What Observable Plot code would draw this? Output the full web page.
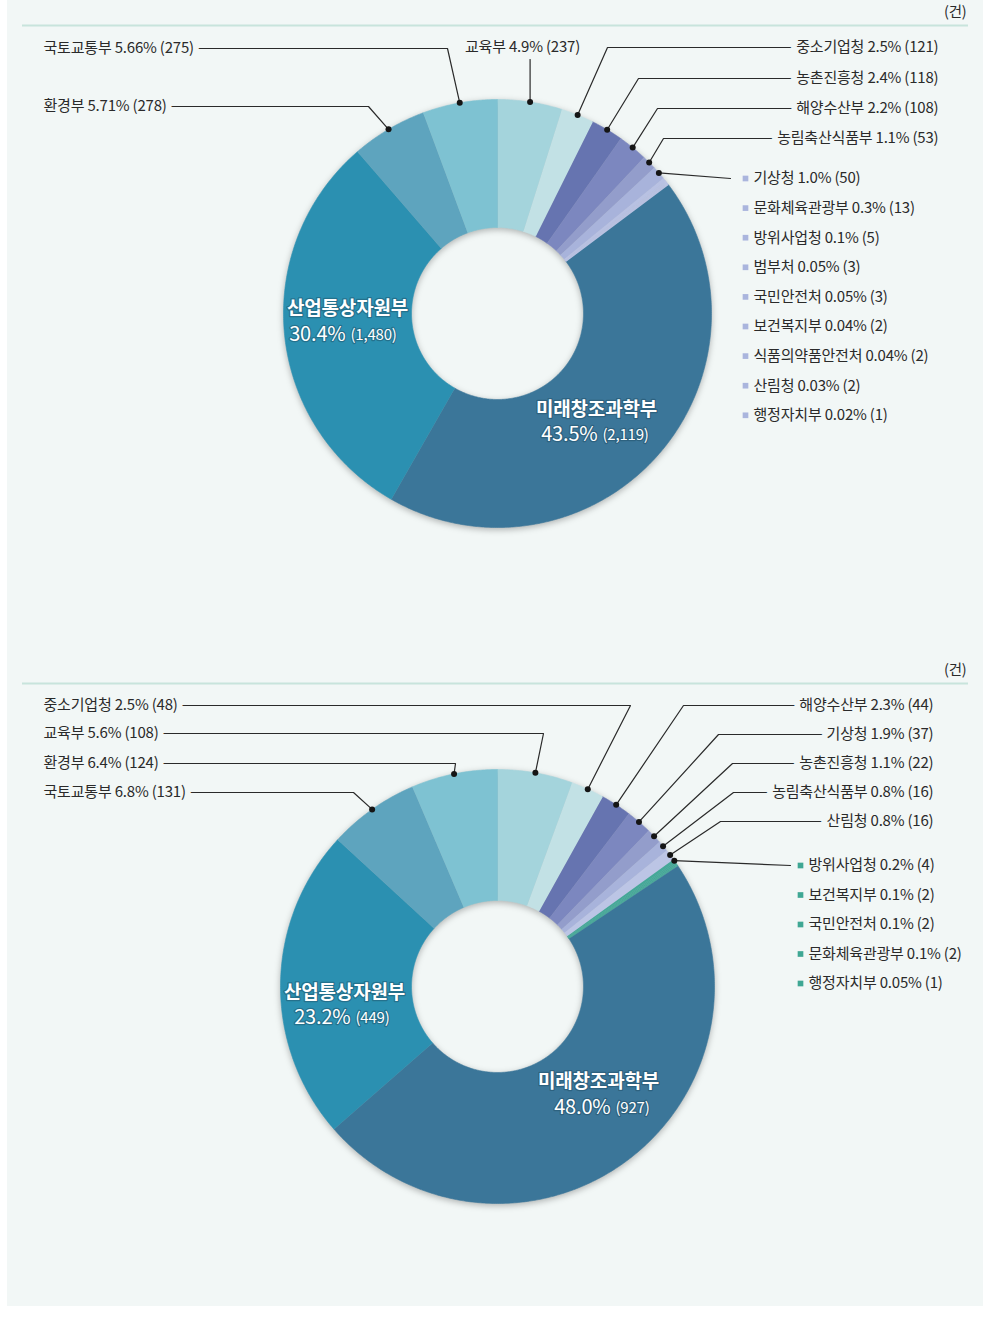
<!DOCTYPE html>
<html><head><meta charset="utf-8">
<script src="https://cdn.jsdelivr.net/npm/d3@7"></script>
<script src="https://cdn.jsdelivr.net/npm/@observablehq/plot@0.6"></script>
<style>
body{margin:0;background:#fff;}
#wrap{position:relative;width:1003px;height:1324px;overflow:hidden;}
#panel{position:absolute;left:7px;top:0;width:976px;height:1306px;background:#f2f7f6;}
#c1,#c2{position:absolute;left:0;}
#c1{top:0}
#c2{top:650px}
</style>
</head><body>
<div id="wrap"><div id="panel"></div><div id="c1"></div><div id="c2"></div></div>
<script>
// ---------- DATA (top donut) ----------
const names1 = ["교육부","중소기업청","농촌진흥청","해양수산부","농림축산식품부","기상청","문화체육관광부","방위사업청","범부처","국민안전처","보건복지부","식품의약품안전처","산림청","행정자치부","미래창조과학부","산업통상자원부","환경부","국토교통부"];
const counts1 = [237,121,118,108,53,50,13,5,3,3,2,2,2,1,2119,1480,278,275];
const pcts1 = ["4.9%","2.5%","2.4%","2.2%","1.1%","1.0%","0.3%","0.1%","0.05%","0.05%","0.04%","0.04%","0.03%","0.02%","43.5%","30.4%","5.71%","5.66%"];

// ---------- DATA (bottom donut) ----------
const names2 = ["교육부","중소기업청","해양수산부","기상청","농촌진흥청","농림축산식품부","산림청","방위사업청","보건복지부","국민안전처","문화체육관광부","행정자치부","미래창조과학부","산업통상자원부","국토교통부","환경부"];
const counts2 = [108,48,44,37,22,16,16,4,2,2,2,1,927,449,131,124];
const pcts2 = ["5.6%","2.5%","2.3%","1.9%","1.1%","0.8%","0.8%","0.2%","0.1%","0.1%","0.1%","0.05%","48.0%","23.2%","6.8%","6.4%"];

const unitLabel = "(건)";

// ---------- STYLE / LAYOUT ----------
const FONT = "'Noto Sans CJK KR', 'Noto Sans', sans-serif";
const BG = "#f2f7f6";
const TXT = "#2a2a2a";
const fmt = d3.format(",");

const palette1 = ["#a4d4dc","#c2e1e5","#6674b0","#7c87bf","#939dcb","#a8b3db","#b8c1e3","#b8c1e3","#b8c1e3","#b8c1e3","#b8c1e3","#b8c1e3","#b8c1e3","#b8c1e3","#3b7699","#2b90b1","#5ea4be","#7ec2d2"];
const palette2 = ["#a4d4dc","#c2e1e5","#6674b0","#7c87bf","#939dcb","#a8b3db","#bcc5e5","#44a898","#44a898","#44a898","#44a898","#44a898","#3b7699","#2b90b1","#5ea4be","#7ec2d2"];

const layout1 = {
  el:"#c1", H:650, cx:497, cy:313, R:214, r:86, dividerY:25, unitY:12,
  leaders:[
    {name:"국토교통부", side:"left", tx:43, ty:48, ex:447},
    {name:"환경부", side:"left", tx:43, ty:106, ex:368},
    {name:"교육부", side:"top", tx:522, ty:47, top:59},
    {name:"중소기업청", side:"right", tx:938, ty:47, ex:607},
    {name:"농촌진흥청", side:"right", tx:938, ty:78, ex:638},
    {name:"해양수산부", side:"right", tx:938, ty:108, ex:657},
    {name:"농림축산식품부", side:"right", tx:938, ty:138, ex:663}
  ],
  legend:{names:["기상청","문화체육관광부","방위사업청","범부처","국민안전처","보건복지부","식품의약품안전처","산림청","행정자치부"], sx:745, tx:753, y0:178, step:29.6, leadEnd:730, color:"#aab5dd"},
  center:[
    {name:"산업통상자원부", x:347, ny:308, pe:345, py:334},
    {name:"미래창조과학부", x:596, ny:409, pe:597, py:434}
  ]
};
const layout2 = {
  el:"#c2", H:674, cx:497, cy:336, R:217, r:86, dividerY:33, unitY:20,
  leaders:[
    {name:"중소기업청", side:"left", tx:43, ty:55, ex:630},
    {name:"교육부", side:"left", tx:43, ty:83, ex:543},
    {name:"환경부", side:"left", tx:43, ty:113, ex:455},
    {name:"국토교통부", side:"left", tx:43, ty:142, ex:353},
    {name:"해양수산부", side:"right", tx:933, ty:55, ex:683},
    {name:"기상청", side:"right", tx:933, ty:84, ex:718},
    {name:"농촌진흥청", side:"right", tx:933, ty:113, ex:732},
    {name:"농림축산식품부", side:"right", tx:933, ty:142, ex:733},
    {name:"산림청", side:"right", tx:933, ty:171, ex:720}
  ],
  legend:{names:["방위사업청","보건복지부","국민안전처","문화체육관광부","행정자치부"], sx:800, tx:808, y0:215, step:29.5, leadEnd:790, color:"#3fa794"},
  center:[
    {name:"산업통상자원부", x:344, ny:342, pe:350, py:367},
    {name:"미래창조과학부", x:598, ny:431, pe:610, py:457}
  ]
};

function donut(names, counts, pcts, palette, L) {
  const {H, cx, cy, R, r} = L;
  const X = px => (px - cx) / R, Y = py => (cy - py) / R;
  const total = d3.sum(counts);
  const cum = d3.cumsum(counts);
  const info = new Map();
  const poly = [];
  names.forEach((n, i) => {
    const a0 = (cum[i] - counts[i]) / total * 2 * Math.PI;
    const a1 = cum[i] / total * 2 * Math.PI;
    info.set(n, {a0, a1, mid:(a0 + a1) / 2, count:counts[i], pct:pcts[i]});
    const steps = Math.max(2, Math.ceil((a1 - a0) / (Math.PI / 360)));
    for (let k = 0; k <= steps; k++) { const a = a0 + (a1 - a0) * k / steps; poly.push({name:n, x:Math.sin(a), y:Math.cos(a)}); }
    for (let k = steps; k >= 0; k--) { const a = a0 + (a1 - a0) * k / steps; poly.push({name:n, x:r / R * Math.sin(a), y:r / R * Math.cos(a)}); }
  });
  const lines = [], dots = [], tLeft = [], tRight = [], tMid = [];
  const label = n => { const s = info.get(n); return `${n} ${s.pct} (${fmt(s.count)})`; };
  for (const l of L.leaders) {
    const s = info.get(l.name);
    const dx = Math.sin(s.mid), dy = Math.cos(s.mid);
    dots.push({x:dx, y:dy});
    let path;
    if (l.side === "top") path = [[dx, Y(l.top)], [dx, dy]];
    else path = [[X(l.tx), Y(l.ty)], [X(l.ex), Y(l.ty)], [dx, dy]];
    path.forEach(([x, y]) => lines.push({id:l.name, x, y}));
    const t = {x:X(l.tx), y:Y(l.ty), text:label(l.name)};
    (l.side === "left" ? tLeft : l.side === "right" ? tRight : tMid).push(t);
  }
  const sq = [], legT = [];
  L.legend.names.forEach((n, i) => {
    const y = L.legend.y0 + i * L.legend.step;
    sq.push({x:X(L.legend.sx), y:Y(y)});
    legT.push({x:X(L.legend.tx), y:Y(y), text:label(n)});
    if (i === 0) {
      const s = info.get(n);
      const dx = Math.sin(s.mid), dy = Math.cos(s.mid);
      dots.push({x:dx, y:dy});
      lines.push({id:"lead_" + n, x:dx, y:dy}, {id:"lead_" + n, x:X(L.legend.leadEnd), y:Y(y)});
    }
  });
  const cName = [], cPct = [], cCnt = [];
  for (const c of L.center) {
    const s = info.get(c.name);
    cName.push({x:X(c.x), y:Y(c.ny), text:c.name});
    cPct.push({x:X(c.pe), y:Y(c.py), text:s.pct});
    cCnt.push({x:X(c.pe + 5), y:Y(c.py + 1), text:`(${fmt(s.count)})`});
  }
  const halo = {stroke:BG, strokeWidth:12, paintOrder:"stroke", strokeLinejoin:"round", fill:TXT, fontSize:15};
  const shade = {stroke:"#1d4a60", strokeOpacity:0.45, strokeWidth:2.5, paintOrder:"stroke", strokeLinejoin:"round", fill:"#fff"};
  const svg = Plot.plot({
    width:1003, height:H, margin:0,
    x:{domain:[X(0), X(1003)], axis:null},
    y:{domain:[Y(H), Y(0)], axis:null},
    color:{type:"ordinal", domain:names, range:palette},
    style:{background:"transparent", fontFamily:FONT, letterSpacing:"-0.2px", overflow:"visible"},
    marks:[
      Plot.ruleY([Y(L.dividerY)], {x1:() => X(22), x2:() => X(968), stroke:"#c8e4dc", strokeWidth:2}),
      Plot.text([unitLabel], {x:() => X(966), y:() => Y(L.unitY), text:d => d, textAnchor:"end", fontSize:14.5, fill:TXT}),
      Plot.line(poly, {x:"x", y:"y", z:"name", fill:"name", stroke:"name", strokeWidth:0.6, curve:"linear"}),
      Plot.line(lines, {x:"x", y:"y", z:"id", stroke:"#2a2a2a", strokeWidth:1.2, curve:"linear"}),
      Plot.dot(dots, {x:"x", y:"y", r:3, fill:"#151515", stroke:"none"}),
      Plot.text(tLeft, {x:"x", y:"y", text:"text", textAnchor:"start", ...halo}),
      Plot.text(tRight, {x:"x", y:"y", text:"text", textAnchor:"end", ...halo}),
      Plot.text(tMid, {x:"x", y:"y", text:"text", textAnchor:"middle", ...halo}),
      Plot.dot(sq, {x:"x", y:"y", symbol:"square", r:3.2, fill:L.legend.color, stroke:"none"}),
      Plot.text(legT, {x:"x", y:"y", text:"text", textAnchor:"start", fill:TXT, fontSize:15}),
      Plot.text(cName, {x:"x", y:"y", text:"text", textAnchor:"middle", fontSize:19, fontWeight:"bold", ...shade}),
      Plot.text(cPct, {x:"x", y:"y", text:"text", textAnchor:"end", fontSize:20, ...shade}),
      Plot.text(cCnt, {x:"x", y:"y", text:"text", textAnchor:"start", fontSize:15, ...shade})
    ]
  });
  const g = d3.select(svg).selectAll('g[aria-label="line"]').nodes()[0];
  if (g) g.style.filter = "drop-shadow(0px 2px 3px rgba(0,0,0,0.28))";
  document.querySelector(L.el).append(svg);
}

donut(names1, counts1, pcts1, palette1, layout1);
donut(names2, counts2, pcts2, palette2, layout2);
</script>
</body></html>
